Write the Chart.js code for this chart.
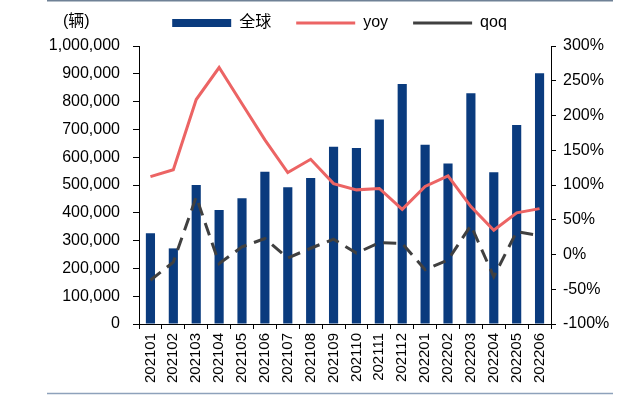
<!DOCTYPE html>
<html>
<head>
<meta charset="utf-8">
<script src="https://cdn.jsdelivr.net/npm/chart.js@4/dist/chart.umd.min.js"></script>
<style>
    html, body { margin: 0; padding: 0; background: #fff; }
</style>
</head>
<body>
<canvas id="chart" width="640" height="397"></canvas>
<script>
// ====== DADOS ======
const months = ['202101', '202102', '202103', '202104', '202105', '202106', '202107', '202108', '202109',
                '202110', '202111', '202112', '202201', '202202', '202203', '202204', '202205', '202206'];
const globalSales = [326000, 272000, 500000, 410000, 452000, 548000, 492000, 525000, 638000,
                     633000, 736000, 863000, 645000, 577000, 830000, 546000, 716000, 902000];
const yoy = [112, 122, 223, 269, 217, 165, 118, 137, 102, 93, 95, 65, 98, 113, 69, 35, 60, 66];
const qoq = [-37, -11, 83, -13, 11, 23, -5, 9, 22, 2, 17, 16, -22, -8, 42, -32, 33, 27];
const legendNames = ['全球', 'yoy', 'qoq'];
const unitLabel = '(辆)';

Chart.defaults.font.family = '"Liberation Sans", Arial, "Noto Sans CJK SC", sans-serif';
Chart.defaults.font.size = 16;
Chart.defaults.color = '#000';

// legenda um pouco mais alta para empurrar a area do grafico
const legendGap = {
    id: 'legendGap',
    beforeInit(chart) {
        if (!chart.legend) return;
        const fit = chart.legend.fit;
        chart.legend.fit = function () {
            fit.call(this);
            this.height += 5;
        };
    }
};

// unidade e linhas de moldura
const frame = {
    id: 'frame',
    afterDraw(chart) {
        const ctx = chart.ctx;
        ctx.save();
        ctx.fillStyle = '#000';
        ctx.font = '16px "Liberation Sans", "Noto Sans CJK SC", sans-serif';
        ctx.textBaseline = 'middle';
        ctx.fillText(unitLabel, 63, 22);
        ctx.lineWidth = 1.5;
        ctx.strokeStyle = '#6f8196';
        ctx.beginPath();
        ctx.moveTo(47, 0.75);
        ctx.lineTo(613, 0.75);
        ctx.stroke();
        ctx.strokeStyle = '#8ea2bb';
        ctx.beginPath();
        ctx.moveTo(47, 393.5);
        ctx.lineTo(613, 393.5);
        ctx.stroke();
        ctx.restore();
    }
};

const ctx = document.getElementById('chart').getContext('2d');
new Chart(ctx, {
    data: {
        labels: months,
        datasets: [
            {
                type: 'bar',
                label: legendNames[0],
                data: globalSales,
                backgroundColor: '#0a3b7e',
                borderWidth: 0,
                barPercentage: 0.4,
                categoryPercentage: 1,
                yAxisID: 'y',
                order: 1
            },
            {
                type: 'line',
                label: legendNames[1],
                data: yoy,
                borderColor: '#ec6464',
                backgroundColor: '#ec6464',
                borderWidth: 3,
                pointRadius: 0,
                tension: 0,
                yAxisID: 'y1',
                order: 0
            },
            {
                type: 'line',
                label: legendNames[2],
                data: qoq,
                borderColor: '#404040',
                backgroundColor: '#404040',
                borderWidth: 3,
                borderDash: [13, 8],
                pointRadius: 0,
                tension: 0,
                yAxisID: 'y1',
                order: 0
            }
        ]
    },
    options: {
        responsive: false,
        animation: false,
        layout: { padding: { top: -10, left: 39, right: 0, bottom: 0 } },
        plugins: {
            tooltip: { enabled: false },
            legend: {
                position: 'top',
                align: 'center',
                labels: {
                    usePointStyle: true,
                    pointStyleWidth: 59,
                    boxHeight: 8,
                    padding: 25,
                    font: { size: 16 },
                    color: '#000',
                    generateLabels(chart) {
                        const items = Chart.defaults.plugins.legend.labels.generateLabels(chart);
                        items.sort((a, b) => a.datasetIndex - b.datasetIndex);
                        items.forEach(it => {
                            it.pointStyle = it.datasetIndex === 0 ? 'rect' : 'line';
                        });
                        return items;
                    }
                }
            }
        },
        scales: {
            x: {
                offset: true,
                grid: { offset: true, drawOnChartArea: false, tickLength: 5, color: '#000' },
                border: { color: '#000', width: 1 },
                ticks: { minRotation: 90, maxRotation: 90, autoSkip: false, padding: 4, font: { size: 15 } },
                afterFit(scale) { scale.height = 73; }
            },
            y: {
                position: 'left',
                min: 0,
                max: 1000000,
                grid: { drawOnChartArea: false, tickLength: 6, color: '#000' },
                border: { color: '#000', width: 1 },
                ticks: {
                    stepSize: 100000,
                    padding: 13,
                    callback: v => v.toLocaleString('en-US')
                },
                afterFit(scale) { scale.width = 100; }
            },
            y1: {
                position: 'right',
                min: -100,
                max: 300,
                grid: { drawOnChartArea: false, tickLength: 5, color: '#000' },
                border: { color: '#000', width: 1 },
                ticks: {
                    stepSize: 50,
                    padding: 7,
                    callback: v => v + '%'
                },
                afterFit(scale) { scale.width = 89; }
            }
        }
    },
    plugins: [legendGap, frame]
});
</script>
</body>
</html>
